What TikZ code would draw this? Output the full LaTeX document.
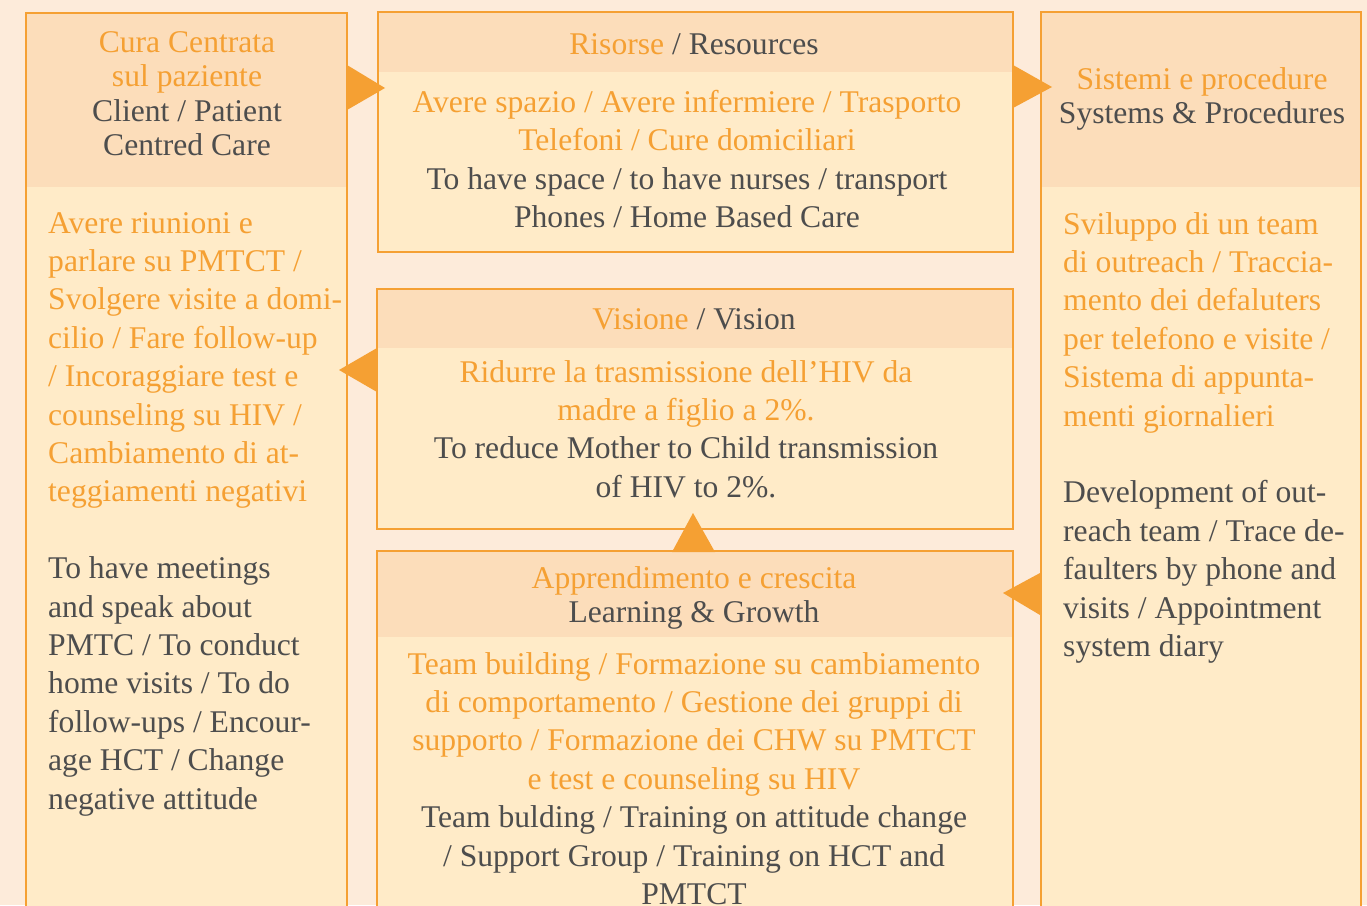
\documentclass[tikz,border=0pt]{standalone}
\usepackage{fontspec}
\setmainfont{Liberation Serif}
\usepackage{xcolor}
\usetikzlibrary{positioning, calc}

\definecolor{pagebg}{HTML}{FDEBDA}
\definecolor{headfill}{HTML}{FCDDBA}
\definecolor{bodyfill}{HTML}{FFEBC8}
\definecolor{rim}{HTML}{F5A033}
\definecolor{ink}{HTML}{4D4D4D}

\newcommand{\ital}[1]{\textcolor{rim}{#1}}

\tikzset{
  panel/.style={draw=rim, line width=2pt, fill=bodyfill, anchor=north west, inner sep=0pt, outer sep=0pt},
  strip/.style={fill=headfill, anchor=north west, inner sep=0pt, outer sep=0pt},
  bodytxt/.style={inner sep=0pt, text=ink, font=\fontsize{31.6}{38.4}\selectfont},
  headtxt/.style={inner sep=0pt, text=ink, font=\fontsize{31.6}{34.6}\selectfont, align=center, anchor=north},
  wedge/.style={fill=rim}
}

\begin{document}
\begin{tikzpicture}[x=1pt, y=-1pt]
    \useasboundingbox (0,0) rectangle (1367,905);
    \clip (0,0) rectangle (1367,905);
    \fill[pagebg] (0,0) rectangle (1367,905);

    % panels and their heads
    \node[panel, minimum width=321pt, minimum height=960pt] (care) at (26,13) {};
    \node[strip, minimum width=319pt, minimum height=173pt] (carehead) at (27,14) {};
    \node[panel, minimum width=635pt, minimum height=240pt] (res) at (378,12) {};
    \node[strip, minimum width=633pt, minimum height=59pt] (reshead) at (379,13) {};
    \node[panel, minimum width=320pt, minimum height=960pt] (sys) at (1041,12) {};
    \node[strip, minimum width=318pt, minimum height=174pt] (syshead) at (1042,13) {};
    \node[panel, minimum width=636pt, minimum height=240pt] (vis) at (377,289) {};
    \node[strip, minimum width=634pt, minimum height=58pt] (vishead) at (378,290) {};
    \node[panel, minimum width=636pt, minimum height=400pt] (learn) at (377,551) {};
    \node[strip, minimum width=634pt, minimum height=85pt] (learnhead) at (378,552) {};

    % titles
    \node[headtxt] (caretitle) at (187,31) {\ital{Cura Centrata}\\ \ital{sul paziente}\\ Client / Patient\\ Centred Care};
    \node[headtxt] (restitle) at (694,33) {\ital{Risorse} / Resources};
    \node[headtxt] (systitle) at (1202,67) {\ital{Sistemi e procedure}\\ Systems \& Procedures};
    \node[headtxt] (vistitle) at (694,308) {\ital{Visione} / Vision};
    \node[headtxt] (learntitle) at (694,566) {\ital{Apprendimento e crescita}\\ Learning \& Growth};

    % texts
    \node[bodytxt, align=left, anchor=north west] (caretext) at (48,212) {%
        \ital{Avere riunioni e}\\ \ital{parlare su PMTCT /}\\ \ital{Svolgere visite a domi-}\\
        \ital{cilio / Fare follow-up}\\ \ital{/ Incoraggiare test e}\\ \ital{counseling su HIV /}\\
        \ital{Cambiamento di at-}\\ \ital{teggiamenti negativi}\\[38.4pt]
        To have meetings\\ and speak about\\ PMTC / To conduct\\ home visits / To do\\
        follow-ups / Encour-\\ age HCT / Change\\ negative attitude};
    \node[bodytxt, align=center, anchor=north] (restext) at (687,90) {%
        \ital{Avere spazio / Avere infermiere / Trasporto}\\ \ital{Telefoni / Cure domiciliari}\\
        To have space / to have nurses / transport\\ Phones / Home Based Care};
    \node[bodytxt, align=left, anchor=north west] (systext) at (1063,212) {%
        \ital{Sviluppo di un team}\\ \ital{di outreach / Traccia-}\\ \ital{mento dei defaluters}\\
        \ital{per telefono e visite /}\\ \ital{Sistema di appunta-}\\ \ital{menti giornalieri}\\[38.4pt]
        Development of out-\\ reach team / Trace de-\\ faulters by phone and\\
        visits / Appointment\\ system diary};
    \node[bodytxt, align=center, anchor=north] (vistext) at (686,360) {%
        \ital{Ridurre la trasmissione dell’HIV da}\\ \ital{madre a figlio a 2\%.}\\
        To reduce Mother to Child transmission\\ of HIV to 2\%.};
    \node[bodytxt, align=center, anchor=north] (learntext) at (694,652) {%
        \ital{Team building / Formazione su cambiamento}\\ \ital{di comportamento / Gestione dei gruppi di}\\
        \ital{supporto / Formazione dei CHW su PMTCT}\\ \ital{e test e counseling su HIV}\\
        Team bulding / Training on attitude change\\ / Support Group / Training on HCT and\\ PMTCT};

    % arrows between panels
    \fill[wedge] ($(care.north east)+(0,52)$) -- ($(care.north east)+(0,97)$) -- ($(res.north west)+(7,76)$) -- cycle;
    \fill[wedge] ($(res.north east)+(0,53)$) -- ($(res.north east)+(0,96)$) -- ($(sys.north west)+(11,75)$) -- cycle;
    \fill[wedge] ($(vis.north west)+(0,59)$) -- ($(vis.north west)+(0,103)$) -- ($(care.north east)+(-8,357)$) -- cycle;
    \fill[wedge] ($(learn.north)+(-23,1)$) -- ($(learn.north)+(20,1)$) -- ($(vis.south)+(-2,-16)$) -- cycle;
    \fill[wedge] ($(sys.north west)+(-1,561)$) -- ($(sys.north west)+(-1,603)$) -- ($(learn.north east)+(-10,42)$) -- cycle;
\end{tikzpicture}
\end{document}
